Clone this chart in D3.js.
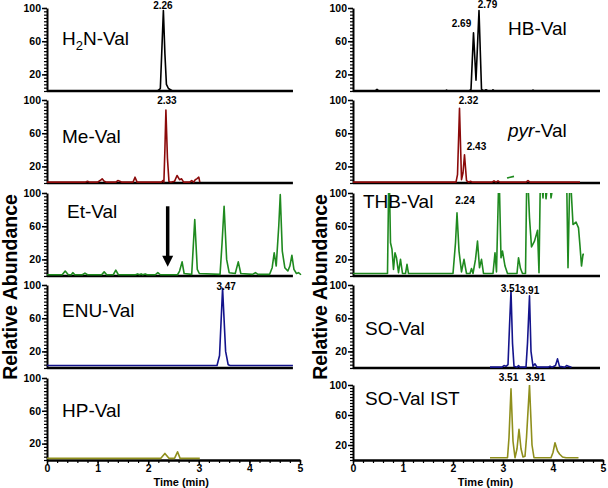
<!DOCTYPE html>
<html>
<head>
<meta charset="utf-8">
<script src="https://cdn.jsdelivr.net/npm/d3@7"></script>
<style>
  body { margin: 0; background: #fff; }
  text { font-family: "Liberation Sans", Arial, sans-serif; }
</style>
</head>
<body>
<div id="chart"></div>
<script>
// chromatogram traces: retention time (min) and relative abundance (%)
const h2nTime = [0, 2.18, 2.24, 2.27, 2.30, 2.33, 2.36, 2.40, 2.48, 4.86];
const h2nAbund = [0, 0, 3, 50, 97, 45, 8, 3, 0, 0];

const meTime = [0, 0.75, 0.8, 0.85, 1.0, 1.05, 1.09, 1.13, 1.18, 1.36, 1.40, 1.44, 1.48, 1.70, 1.74, 1.78,
  2.26, 2.29, 2.31, 2.33, 2.35, 2.38, 2.41, 2.44, 2.52, 2.57, 2.62, 2.66, 2.70, 2.82, 2.86, 2.90, 2.93, 2.96, 3.00, 3.02];
const meAbund = [1, 1, 2, 1, 1, 3, 5, 2, 1, 1, 3, 2, 1, 1, 7, 1,
  1, 3, 1, 40, 88, 30, 2, 1, 2, 9, 4, 5, 1, 1, 3, 1, 4, 5, 7, 1];

const etTime = [0, 0.30, 0.36, 0.42, 0.48, 0.51, 0.55, 0.70, 0.75, 0.80, 1.08, 1.13, 1.18, 1.31, 1.36, 1.41,
  1.75, 1.79, 1.83, 1.86, 1.89, 1.94, 1.98, 2.14, 2.19, 2.24, 2.58, 2.62, 2.67, 2.71, 2.86, 2.92, 2.97, 3.01,
  3.42, 3.46, 3.50, 3.55, 3.60, 3.72, 3.78, 3.83, 4.06, 4.12, 4.17, 4.40, 4.45, 4.49, 4.53, 4.58, 4.61, 4.65,
  4.70, 4.76, 4.80, 4.84, 4.88, 4.93, 4.97, 5.02];
const etAbund = [1.5, 1.5, 6, 1.5, 1.5, 4, 1.5, 1.5, 3.5, 1.5, 1.5, 5, 1.5, 1.5, 7, 1.5,
  1.5, 2.5, 1.5, 2.5, 1.5, 2.5, 1.5, 1.5, 4, 1.5, 1.5, 6, 17, 3, 2, 68, 8, 3,
  2, 40, 84, 20, 4, 3, 17, 3, 2, 4, 2, 2, 10, 28, 12, 60, 98, 30,
  10, 6, 12, 25, 8, 3, 4, 1.5];

const enuTime = [0, 3.36, 3.41, 3.47, 3.53, 3.58, 3.62, 4.86];
const enuAbund = [3, 3, 15, 96, 20, 4, 3, 3];

const hpTime = [0, 2.25, 2.33, 2.41, 2.52, 2.58, 2.63, 3.02];
const hpAbund = [2, 2, 8, 2, 2, 10, 2, 2];

const hbTime = [0, 0.44, 0.48, 0.52, 1.85, 1.87, 1.90, 2.32, 2.36, 2.41, 2.46, 2.52, 2.57, 2.62, 2.66, 2.70,
  2.78, 2.80, 2.83, 3.58, 3.60, 3.63, 4.94];
const hbAbund = [0, 0, 2, 0, 0, 1, 0, 0, 2, 70, 13, 97, 2, 0, 1.5, 0,
  0, 1.5, 0, 0, 1, 0, 0];

const pyrTime = [0, 2.06, 2.09, 2.13, 2.17, 2.20, 2.23, 2.27, 2.31, 2.35, 2.39, 2.78, 2.82, 2.86, 2.90, 2.94,
  3.46, 3.50, 3.54, 4.54];
const pyrAbund = [1, 1, 10, 90, 4, 12, 34, 3, 1, 2, 1, 1, 2.5, 1, 2.5, 1,
  1, 3, 1, 1];
// short stray green segment in the pyr-Val panel
const strayTime = [3.08, 3.22];
const strayAbund = [6, 8];

const thbTime = [0, 0.69, 0.72, 0.75, 0.78, 0.81, 0.84, 0.87, 0.91, 0.95, 0.99, 1.05, 1.08, 1.11, 1.14,
  2.00, 2.05, 2.08, 2.12, 2.17, 2.22, 2.27, 2.34, 2.37, 2.40, 2.45, 2.49, 2.53, 2.57, 2.61,
  2.80, 2.84, 2.87, 2.92, 2.96, 2.99, 3.04, 3.09, 3.28, 3.31, 3.35, 3.39,
  3.45, 3.48, 3.53, 3.57, 3.63, 3.69, 3.72, 3.75, 3.80, 3.83, 3.86, 3.93, 3.96, 4.06, 4.09,
  4.27, 4.30, 4.34, 4.40, 4.46, 4.51, 4.54, 4.57, 4.60, 4.62];
const thbAbund = [3, 3, 140, 40, 32, 8, 28, 22, 4, 20, 3, 3, 14, 3, 3,
  3, 40, 76, 30, 5, 20, 3, 3, 9, 3, 20, 42, 10, 20, 3,
  3, 28, 5, 130, 22, 30, 12, 3, 3, 22, 9, 3,
  3, 140, 70, 35, 42, 55, 4, 130, 94, 130, 93, 130, 94, 130, 130,
  130, 10, 130, 62, 65, 58, 36, 12, 26, 26];

const soTime = [2.74, 2.98, 3.02, 3.06, 3.10, 3.13, 3.16, 3.19, 3.22, 3.28, 3.31, 3.34, 3.46, 3.49, 3.53, 3.56,
  3.60, 3.64, 3.68, 3.90, 3.94, 3.98, 4.05, 4.09, 4.13, 4.24, 4.27, 4.31, 4.37];
const soAbund = [1, 1, 3, 2, 4, 50, 93, 30, 2, 1, 3, 1, 1, 30, 87, 20,
  2, 5, 1, 1, 2, 1, 3, 11, 2, 1, 3, 2, 1];

const istTime = [2.74, 3.09, 3.12, 3.16, 3.20, 3.24, 3.28, 3.32, 3.36, 3.40, 3.44, 3.47, 3.53, 3.58, 3.62,
  3.96, 4.00, 4.04, 4.09, 4.13, 4.19, 4.26, 4.51];
const istAbund = [3, 3, 30, 95, 25, 3, 15, 41, 15, 4, 5, 30, 100, 20, 3,
  3, 10, 23, 12, 8, 4, 3, 3];

// peak annotations: [label, time, abundance]
const h2nPeaks = [["2.26", 2.29, 99]];
const mePeaks = [["2.33", 2.37, 95]];
const enuPeaks = [["3.47", 3.54, 94]];
const hbPeaks = [["2.69", 2.17, 77], ["2.79", 2.69, 100]];
const pyrPeaks = [["2.32", 2.31, 95], ["2.43", 2.47, 40]];
const thbPeaks = [["2.24", 2.24, 87]];
const soPeaks = [["3.51", 3.15, 92], ["3.91", 3.53, 89]];
const istPeaks = [["3.51", 3.11, 105], ["3.91", 3.65, 105]];

const yTickLabels = [20, 60, 100];
const xTickLabels = [0, 1, 2, 3, 4, 5];

// arrow in the Et-Val panel: time, from, to
const arrowTime = 2.385, arrowFrom = 84, arrowTo = 11;

const width = 608, height = 488;

const svg = d3.select("#chart").append("svg")
  .attr("width", width)
  .attr("height", height);

const columns = [
  {
    x0: 47, x1: 300, axisEnd: 4.86, yLabelX: 16.5,
    panels: [
      { name: "H2N", top: 8, h: 83, nx: 62, ny: 45, time: h2nTime, abund: h2nAbund, color: "#000000", peaks: h2nPeaks },
      { name: "Me-Val", top: 100, h: 83, nx: 62, ny: 143, time: meTime, abund: meAbund, color: "#8b0a0a", peaks: mePeaks },
      { name: "Et-Val", top: 193, h: 83, nx: 67, ny: 218, time: etTime, abund: etAbund, color: "#1f8a1f", peaks: [], arrow: true },
      { name: "ENU-Val", top: 285, h: 83, nx: 62, ny: 317, time: enuTime, abund: enuAbund, color: "#14148c", peaks: enuPeaks },
      { name: "HP-Val", top: 378, h: 82, nx: 62, ny: 417, time: hpTime, abund: hpAbund, color: "#8f8f1c", peaks: [] }
    ]
  },
  {
    x0: 353, x1: 603, axisEnd: 4.94, yLabelX: 327,
    panels: [
      { name: "HB-Val", top: 8, h: 83, nx: 508, ny: 35, time: hbTime, abund: hbAbund, color: "#000000", peaks: hbPeaks },
      { name: "pyr", top: 100, h: 83, nx: 508, ny: 137, time: pyrTime, abund: pyrAbund, color: "#8b0a0a", peaks: pyrPeaks, stray: true },
      { name: "THB-Val", top: 193, h: 83, nx: 363, ny: 208, time: thbTime, abund: thbAbund, color: "#1f8a1f", peaks: thbPeaks },
      { name: "SO-Val", top: 285, h: 83, nx: 365, ny: 335, time: soTime, abund: soAbund, color: "#14148c", peaks: soPeaks },
      { name: "SO-Val IST", top: 385, h: 75, nx: 365, ny: 405, time: istTime, abund: istAbund, color: "#8f8f1c", peaks: istPeaks }
    ]
  }
];

let clipId = 0;

columns.forEach(function (col) {
  const x = d3.scaleLinear().domain([0, 5]).range([col.x0, col.x1]);

  col.panels.forEach(function (p, i) {
    const last = i === col.panels.length - 1;
    const y = d3.scaleLinear().domain([0, 100]).range([p.top + p.h, p.top]);
    const g = svg.append("g");

    // clip traces at the 100% line
    const cid = "clip" + clipId++;
    svg.append("clipPath").attr("id", cid)
      .append("rect")
      .attr("x", col.x0)
      .attr("y", y(100))
      .attr("width", col.x1 - col.x0 + 6)
      .attr("height", p.h + 4);

    const line = d3.line()
      .x(function (d) { return x(d[0]); })
      .y(function (d) { return y(d[1]); });

    // y axis, minor ticks every 4, labels at 20/60/100
    const minor = g.append("g")
      .attr("transform", "translate(" + col.x0 + ",0)")
      .call(d3.axisLeft(y).tickValues(d3.range(0, 101, 4)).tickSize(3).tickSizeOuter(0).tickFormat(""));
    minor.select(".domain").attr("stroke-width", 2);
    minor.selectAll(".tick line").attr("stroke-width", 1.2);

    const major = g.append("g")
      .attr("transform", "translate(" + col.x0 + ",0)")
      .call(d3.axisLeft(y).tickValues(yTickLabels).tickSize(5).tickSizeOuter(0).tickPadding(1));
    major.select(".domain").remove();
    major.selectAll(".tick line").attr("stroke-width", 1.5);
    major.selectAll(".tick text")
      .attr("font-size", "10.5px")
      .attr("font-weight", "bold")
      .attr("fill", "#000");

    // x axis
    if (last) {
      const xm = g.append("g")
        .attr("transform", "translate(0," + y(0) + ")")
        .call(d3.axisBottom(x).tickValues(d3.range(0, 5.01, 0.2)).tickSize(3).tickSizeOuter(0).tickFormat(""));
      xm.select(".domain").attr("stroke-width", 2.5);
      xm.selectAll(".tick line").attr("stroke-width", 1.2);

      const xa = g.append("g")
        .attr("transform", "translate(0," + y(0) + ")")
        .call(d3.axisBottom(x).tickValues(xTickLabels).tickSize(5).tickSizeOuter(0).tickPadding(0).tickFormat(d3.format("d")));
      xa.select(".domain").remove();
      xa.selectAll(".tick line").attr("stroke-width", 1.5);
      xa.selectAll(".tick text")
        .attr("font-size", "10.5px")
        .attr("font-weight", "bold")
        .attr("fill", "#000");

      g.append("text")
        .attr("x", col.x0 + (col.x1 - col.x0) * 0.53)
        .attr("y", 485.5)
        .attr("text-anchor", "middle")
        .attr("font-size", "11px")
        .attr("font-weight", "bold")
        .text("Time (min)");
    } else {
      g.append("line")
        .attr("x1", x(0))
        .attr("x2", x(col.axisEnd))
        .attr("y1", y(0))
        .attr("y2", y(0))
        .attr("stroke", "#000")
        .attr("stroke-width", 2.5);
    }

    // trace
    g.append("path")
      .datum(d3.zip(p.time, p.abund))
      .attr("clip-path", "url(#" + cid + ")")
      .attr("fill", "none")
      .attr("stroke", p.color)
      .attr("stroke-width", 1.6)
      .attr("stroke-linejoin", "round")
      .attr("d", line);

    if (p.stray) {
      g.append("path")
        .datum(d3.zip(strayTime, strayAbund))
        .attr("fill", "none")
        .attr("stroke", "#1f8a1f")
        .attr("stroke-width", 1.6)
        .attr("d", line);
    }

    // panel name
    const nm = g.append("text")
      .attr("x", p.nx)
      .attr("y", p.ny)
      .attr("font-size", "19px")
      .attr("fill", "#000");
    if (p.name === "H2N") {
      nm.append("tspan").text("H");
      nm.append("tspan").attr("font-size", "13px").attr("dy", 5).text("2");
      nm.append("tspan").attr("dy", -5).text("N-Val");
    } else if (p.name === "pyr") {
      nm.append("tspan").attr("font-style", "italic").text("pyr");
      nm.append("tspan").text("-Val");
    } else {
      nm.text(p.name);
    }

    // peak labels
    g.selectAll(".peak")
      .data(p.peaks)
      .enter()
      .append("text")
      .attr("class", "peak")
      .attr("x", function (d) { return x(d[1]); })
      .attr("y", function (d) { return y(d[2]); })
      .attr("text-anchor", "middle")
      .attr("font-size", "10px")
      .attr("font-weight", "bold")
      .text(function (d) { return d[0]; });

    // arrow marking the expected retention time
    if (p.arrow) {
      const ax = x(arrowTime);
      g.append("line")
        .attr("x1", ax).attr("x2", ax)
        .attr("y1", y(arrowFrom)).attr("y2", y(arrowTo) - 8)
        .attr("stroke", "#000")
        .attr("stroke-width", 3.5);
      g.append("path")
        .attr("d", "M" + (ax - 5.5) + "," + (y(arrowTo) - 11) +
          "L" + (ax + 5.5) + "," + (y(arrowTo) - 11) +
          "L" + ax + "," + y(arrowTo) + "Z")
        .attr("fill", "#000");
    }
  });

  // column y label
  svg.append("text")
    .attr("transform", "translate(" + col.yLabelX + ",287) rotate(-90)")
    .attr("text-anchor", "middle")
    .attr("font-size", "19.5px")
    .attr("font-weight", "bold")
    .text("Relative Abundance");
});
</script>
</body>
</html>
